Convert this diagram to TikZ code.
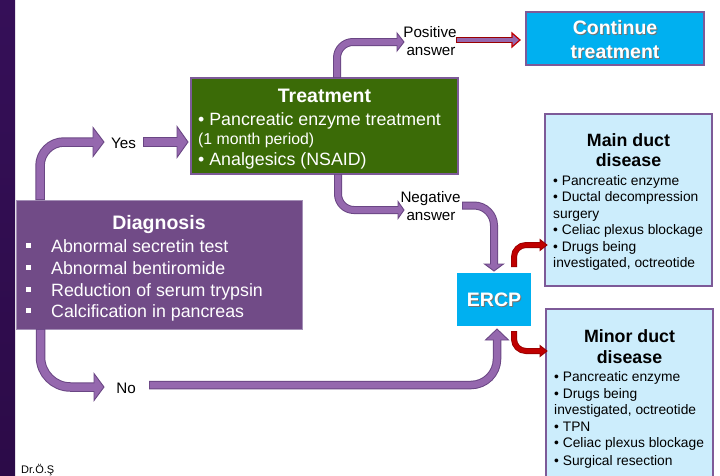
\documentclass[tikz,border=0pt]{standalone}
\usepackage{fontspec}
\setmainfont{Liberation Sans}
\usetikzlibrary{calc}
\definecolor{barT}{HTML}{350F58}
\definecolor{barM}{HTML}{521B86}
\definecolor{barB}{HTML}{2C0B48}
\definecolor{diagfill}{HTML}{714B87}
\definecolor{diagedge}{HTML}{A48FB6}
\definecolor{boxedge}{HTML}{7D5A98}
\definecolor{greenfill}{HTML}{3B6B07}
\definecolor{cyanfill}{HTML}{00B0F0}
\definecolor{lightblue}{HTML}{CCEDFC}
\definecolor{arrfill}{HTML}{9568AE}
\definecolor{arredge}{HTML}{6A4684}
\definecolor{redfill}{HTML}{C00000}
\definecolor{rededge}{HTML}{9A0000}
\newcommand{\fTitle}{\fontsize{19.5}{22}\selectfont\bfseries}
\newcommand{\fBig}{\fontsize{17.8}{20}\selectfont}
\newcommand{\fMid}{\fontsize{15.8}{18}\selectfont}
\newcommand{\fLab}{\fontsize{15.2}{18}\selectfont}
\newcommand{\fSub}{\fontsize{17.8}{20}\selectfont\bfseries}
\newcommand{\fSmall}{\fontsize{13.8}{16}\selectfont}
\newcommand{\fTiny}{\fontsize{11}{13}\selectfont}
\begin{document}
\begin{tikzpicture}[x=1pt,y=-1pt,
  boxst/.style={inner sep=0pt, outer sep=0pt},
  tl/.style={inner sep=0pt, anchor=base west},
  tc/.style={inner sep=0pt, anchor=base},
  pout/.style={draw=arredge, line cap=butt},
  pin/.style={draw=arrfill, line cap=butt},
  phead/.style={fill=arrfill, draw=arredge, line width=0.9pt, line join=miter},
  rout/.style={draw=rededge, line cap=butt},
  rin/.style={draw=redfill, line cap=butt},
  rhead/.style={fill=redfill, draw=rededge, line width=0.9pt, line join=miter},
  shad/.style={text=black!55}
]
\useasboundingbox (0,0) rectangle (720,475);
\fill[white] (0,0) rectangle (720,475);
\shade[top color=barT, middle color=barM, bottom color=barB] (0,0) rectangle (15,475);

% ---------- boxes ----------
\node[boxst, draw=diagedge, line width=0.8pt, fill=diagfill, minimum width=286pt, minimum height=129pt] (diag) at (159,264.5) {};
\node[boxst, draw=boxedge, line width=1.5pt, fill=greenfill, minimum width=267pt, minimum height=96pt] (treat) at (324.5,126) {};
\node[boxst, draw=boxedge, line width=1.5pt, fill=cyanfill, minimum width=178pt, minimum height=53pt] (cont) at (615,38.5) {};
\node[boxst, draw=boxedge, line width=1.5pt, fill=lightblue, minimum width=167pt, minimum height=172pt] (main) at (628.5,200) {};
\node[boxst, draw=boxedge, line width=1.5pt, fill=lightblue, minimum width=167pt, minimum height=171pt] (minor) at (629.5,394.5) {};
\node[boxst, fill=cyanfill, minimum width=74pt, minimum height=53pt] (ercp) at (494,299.5) {};

% ---------- arrows ----------
% Yes (diagnosis -> label)
\coordinate (yesA) at ($(diag.north west)+(24,0)$);
\draw[pout, line width=9.5pt, rounded corners=24pt] (yesA) |- (94,142);
\filldraw[phead] (93,127.5) -- (104,142) -- (93,156.5) -- cycle;
\draw[pin, line width=7.5pt, rounded corners=24pt] ($(yesA)+(0,-0.9)$) |- (94,142);
% Yes (label -> treatment)
\draw[pout, line width=9.5pt] (143,142) -- (178,142);
\filldraw[phead] (177,126.5) -- (188,142) -- (177,157.5) -- cycle;
\draw[pin, line width=7.5pt] (143.9,142) -- (178,142);
% Positive
\coordinate (posA) at ($(treat.north west)+(146,0)$);
\draw[pout, line width=8pt, rounded corners=16pt] (posA) |- (398,42);
\filldraw[phead] (397,33) -- (404,42) -- (397,51) -- cycle;
\draw[pin, line width=6pt, rounded corners=16pt] ($(posA)+(0,-0.9)$) |- (398,42);
% Positive -> continue (red)
\coordinate (contA) at ($(cont.west)+(-6,1.5)$);
\draw[rout, line width=6.5pt] (456,40) -- (513,40);
\filldraw[fill=arrfill, draw=redfill, line width=1.2pt] (512,33) -- (520,40) -- (512,47) -- cycle;
\draw[pin, line width=4pt] (456.9,40) -- (513,40);
% Negative
\coordinate (negA) at ($(treat.south west)+(147,0)$);
\draw[pout, line width=8pt, rounded corners=16pt] (negA) |- (399,210);
\filldraw[phead] (398,201.5) -- (404,210) -- (398,218.5) -- cycle;
\draw[pin, line width=6pt, rounded corners=16pt] ($(negA)+(0,0.9)$) |- (399,210);
% Negative -> ERCP
\coordinate (ercpN) at ($(ercp.north)+(0,-2)$);
\draw[pout, line width=8pt, rounded corners=20pt] (462,205.5) -| (494,265);
\filldraw[phead] (484.5,264) -- (494,271) -- (503.5,264) -- cycle;
\draw[pin, line width=6pt, rounded corners=20pt] (462.9,205.5) -| (494,265);
% No (diagnosis -> label)
\coordinate (noA) at ($(diag.south west)+(24.5,0)$);
\draw[pout, line width=9.5pt, rounded corners=30pt] (noA) |- (95,387);
\filldraw[phead] (94,373.5) -- (104,387) -- (94,400.5) -- cycle;
\draw[pin, line width=7.5pt, rounded corners=30pt] ($(noA)+(0,0.9)$) |- (95,387);
% No -> ERCP
\draw[pout, line width=8.5pt, rounded corners=26pt] (149,385) -| (497,339);
\filldraw[phead] (485.5,340) -- (497,329) -- (508.5,340) -- cycle;
\draw[pin, line width=6.5pt, rounded corners=26pt] (149.9,385) -| (497,339);
% ERCP -> main duct (red)
\draw[rout, line width=6pt, rounded corners=12pt] (514,267) |- (541,245);
\filldraw[rhead] (540,239.5) -- (547,245) -- (540,250.5) -- cycle;
\draw[rin, line width=4.2pt, rounded corners=12pt] (514,266.1) |- (541,245);
% ERCP -> minor duct (red)
\draw[rout, line width=6pt, rounded corners=12pt] (514,331) |- (541,351);
\filldraw[rhead] (540,345.5) -- (547,351) -- (540,356.5) -- cycle;
\draw[rin, line width=4.2pt, rounded corners=12pt] (514,331.9) |- (541,351);

% ---------- texts ----------
% Diagnosis
\node[tc, text=white, font=\fTitle] (dtitle) at (159,229) {Diagnosis};
\foreach \yy in {252,274,296,317} {\fill[white] (25.5,{\yy-9}) rectangle ++(5,5);}
\node[tl, text=white, font=\fBig] (d1) at (51,252) {Abnormal secretin test};
\node[tl, text=white, font=\fBig] (d2) at (51,274) {Abnormal bentiromide};
\node[tl, text=white, font=\fBig] (d3) at (51,296) {Reduction of serum trypsin};
\node[tl, text=white, font=\fBig] (d4) at (51,317) {Calcification in pancreas};
% Treatment
\node[tc, text=white, font=\fTitle] (ttitle) at (324.5,102) {Treatment};
\node[tl, text=white, font=\fBig] (t1) at (198,125) {• Pancreatic enzyme treatment};
\node[tl, text=white, font=\fMid] (t2) at (198,144) {(1 month period)};
\node[tl, text=white, font=\fBig] (t3) at (198,165) {• Analgesics (NSAID)};
% Continue treatment
\node[tc, shad, font=\fTitle] at (616,35) {Continue};
\node[tc, shad, font=\fTitle] at (616,59) {treatment};
\node[tc, text=white, font=\fTitle] (c1) at (615,34) {Continue};
\node[tc, text=white, font=\fTitle] (c2) at (615,58) {treatment};
% ERCP
\node[tc, shad, font=\fTitle] at (495,307) {ERCP};
\node[tc, text=white, font=\fTitle] (e1) at (494,306) {ERCP};
% Main duct disease
\node[tc, font=\fSub] (m0) at (628.5,146.5) {Main duct};
\node[tc, font=\fSub] (m00) at (628.5,166.5) {disease};
\node[tl, font=\fSmall] (m1) at (553,185) {• Pancreatic enzyme};
\node[tl, font=\fSmall] (m2) at (553,201.5) {• Ductal decompression};
\node[tl, font=\fSmall] (m3) at (553,218) {surgery};
\node[tl, font=\fSmall] (m4) at (553,234.5) {• Celiac plexus blockage};
\node[tl, font=\fSmall] (m5) at (553,251) {• Drugs being};
\node[tl, font=\fSmall] (m6) at (553,267.5) {investigated, octreotide};
% Minor duct disease
\node[tc, font=\fSub] (n0) at (629.5,342) {Minor duct};
\node[tc, font=\fSub] (n00) at (629.5,363) {disease};
\node[tl, font=\fSmall] (n1) at (554,381) {• Pancreatic enzyme};
\node[tl, font=\fSmall] (n2) at (554,398) {• Drugs being};
\node[tl, font=\fSmall] (n3) at (554,414) {investigated, octreotide};
\node[tl, font=\fSmall] (n4) at (554,431) {• TPN};
\node[tl, font=\fSmall] (n5) at (554,447) {• Celiac plexus blockage};
\node[tl, font=\fSmall] (n6) at (554,465) {• Surgical resection};
% Labels
\node[tc, font=\fLab] (yes) at (123.5,148) {Yes};
\node[tc, font=\fLab] (no) at (126,393) {No};
\node[tc, font=\fLab] (pos1) at (430,37) {Positive};
\node[tc, font=\fLab] (pos2) at (431,55) {answer};
\node[tc, font=\fLab] (neg1) at (430.5,202) {Negative};
\node[tc, font=\fLab] (neg2) at (431,220) {answer};
\node[tl, font=\fTiny] (dr) at (21,473) {Dr.Ö.Ş};
\end{tikzpicture}
\end{document}
